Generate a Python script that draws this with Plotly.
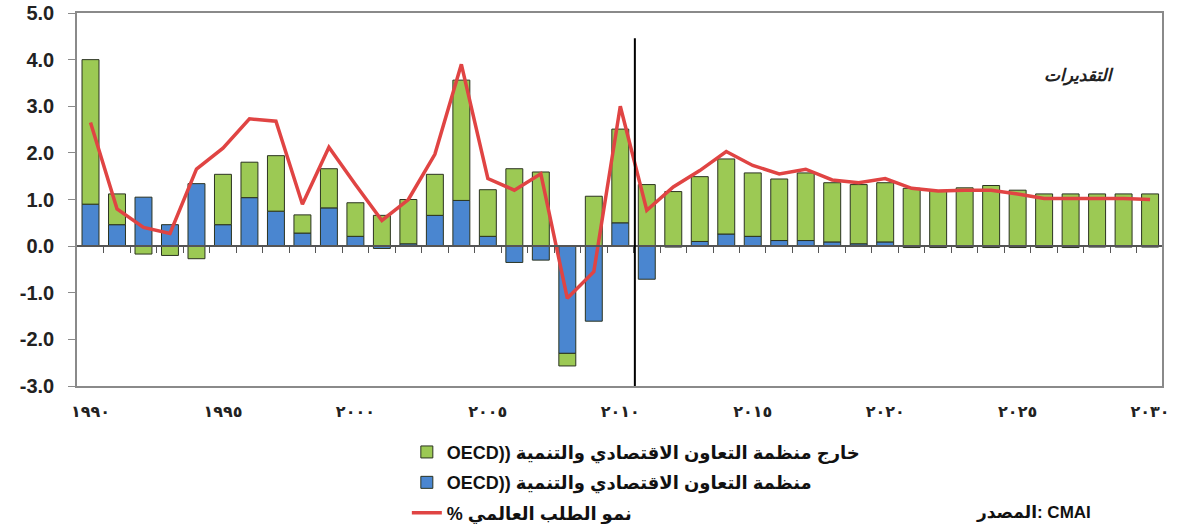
import plotly.graph_objects as go

years = list(range(1990, 2031))

oecd = [0.90, 0.46, 1.05, 0.46, 1.34, 0.46, 1.04, 0.75, 0.28, 0.82,
        0.21, -0.05, 0.05, 0.66, 0.98, 0.21, -0.35, -0.30, -2.30, -1.61,
        0.50, -0.71, -0.02, 0.10, 0.26, 0.21, 0.12, 0.12, 0.09, 0.05,
        0.09, -0.03, -0.03, -0.03, -0.03, -0.03, -0.03, -0.03, -0.02, -0.02,
        -0.02]

non_oecd = [3.10, 0.66, -0.17, -0.20, -0.27, 1.08, 0.76, 1.19, 0.39, 0.84,
            0.72, 0.66, 0.95, 0.88, 2.58, 1.00, 1.66, 1.59, -0.27, 1.07,
            2.01, 1.32, 1.17, 1.39, 1.61, 1.36, 1.32, 1.45, 1.27, 1.27,
            1.27, 1.24, 1.19, 1.25, 1.30, 1.20, 1.12, 1.12, 1.12, 1.12,
            1.12]

demand_growth = [2.65, 0.80, 0.40, 0.27, 1.65, 2.10, 2.73, 2.68, 0.90, 2.12,
                 1.32, 0.55, 1.00, 1.97, 3.90, 1.45, 1.20, 1.55, -1.12, -0.55,
                 3.00, 0.77, 1.27, 1.62, 2.03, 1.73, 1.55, 1.65, 1.42, 1.36,
                 1.45, 1.24, 1.18, 1.20, 1.20, 1.12, 1.02, 1.02, 1.02, 1.02,
                 1.00]

tick_years = [1990, 1995, 2000, 2005, 2010, 2015, 2020, 2025, 2030]
tick_labels = ["١٩٩٠", "١٩٩٥", "٢٠٠٠", "٢٠٠٥", "٢٠١٠", "٢٠١٥", "٢٠٢٠", "٢٠٢٥", "٢٠٣٠"]

y_ticks = [5, 4, 3, 2, 1, 0, -1, -2, -3]
y_tick_labels = ["5.0", "4.0", "3.0", "2.0", "1.0", "0.0", "-1.0", "-2.0", "-3.0"]

name_non_oecd = "OECD)) خارج منظمة التعاون الاقتصادي والتنمية"
name_oecd = "OECD)) منظمة التعاون الاقتصادي والتنمية"
name_growth = "% نمو الطلب العالمي"
estimates_label = "التقديرات"
source_label = "المصدر: CMAI"
forecast_start = 2010.55

BLUE = "#4A86D0"
GREEN = "#9CC954"
RED = "#E04443"
OUTLINE = "#2b3320"
AXIS = "#8a8a8a"

xrange = [1989.49, 2030.45]

fig = go.Figure()
fig.add_bar(x=years, y=oecd, name=name_oecd, legendrank=2, legendgroup="b",
            marker=dict(color=BLUE, line=dict(color=OUTLINE, width=1)))
fig.add_bar(x=years, y=non_oecd, name=name_non_oecd, legendrank=1, legendgroup="a",
            marker=dict(color=GREEN, line=dict(color=OUTLINE, width=1)))
fig.add_scatter(x=years, y=demand_growth, name=name_growth, legendrank=3, legendgroup="c",
                mode="lines", xaxis="x2",
                line=dict(color=RED, width=3.5))

fig.add_shape(type="line", xref="x", yref="y", x0=forecast_start, x1=forecast_start,
              y0=-3, y1=4.46, line=dict(color="black", width=2))

fig.add_annotation(x=2027.3, y=3.66, xref="x", yref="y", showarrow=False,
                   text="<i><b>" + estimates_label + "</b></i>",
                   font=dict(family="DejaVu Sans", size=17, color="#222"))
fig.add_annotation(x=0.936, y=-0.37, xref="paper", yref="paper", showarrow=False,
                   text="<b>" + source_label + "</b>",
                   font=dict(family="Liberation Sans, DejaVu Sans", size=17, color="#111"))

fig.update_layout(
    width=1182, height=524,
    margin=dict(l=77, r=20, t=13, b=138, autoexpand=False),
    paper_bgcolor="white", plot_bgcolor="white",
    barmode="relative", bargap=0.36,
    showlegend=True,
    legend=dict(orientation="v", x=0.304, y=-0.128, xanchor="left", yanchor="top",
                traceorder="grouped", tracegroupgap=4,
                font=dict(family="Liberation Sans, DejaVu Sans", size=18, color="#111", weight="bold"),
                bgcolor="rgba(0,0,0,0)"),
    xaxis=dict(range=xrange, showgrid=False, zeroline=False,
               showline=True, linecolor=AXIS, linewidth=1.5, mirror=True,
               ticks="", tickvals=tick_years, ticktext=tick_labels,
               ticklabelstandoff=10, automargin=False,
               tickfont=dict(family="DejaVu Sans", size=16, color="#222", weight="bold")),
    xaxis2=dict(range=xrange, overlaying="x", anchor="free", position=0.375, side="bottom",
                showgrid=False, zeroline=False, showline=True, linecolor="#555", linewidth=1.5,
                ticks="outside", ticklen=6, tickcolor="#555", tickwidth=1,
                tickvals=[y + 0.5 for y in years[:-1]], showticklabels=False),
    yaxis=dict(range=[-3, 5], showgrid=False, zeroline=False,
               showline=True, linecolor=AXIS, linewidth=1.5, mirror=True,
               ticks="outside", ticklen=7, tickcolor=AXIS, automargin=False,
               ticklabeloverflow="allow", ticklabelstandoff=10,
               tickvals=y_ticks, ticktext=y_tick_labels,
               tickfont=dict(family="Liberation Sans", size=20, color="#222", weight="bold")),
)

fig.write_html("out.html", config={"displayModeBar": False},
               post_script="document.body.style.margin='0';")
